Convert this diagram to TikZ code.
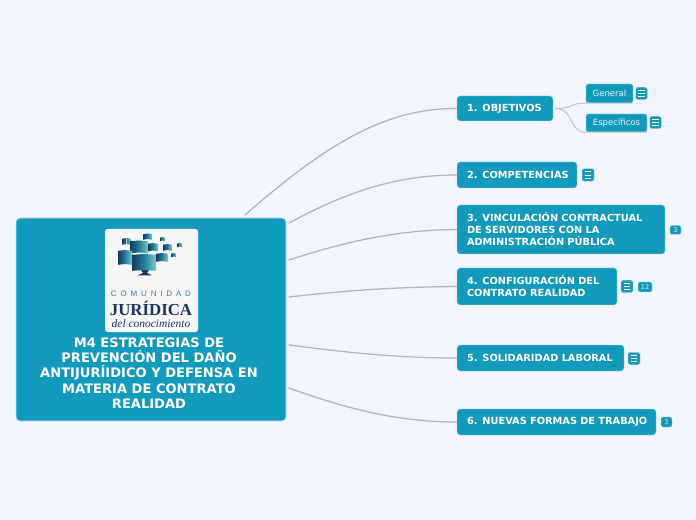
\documentclass[tikz,border=0pt]{standalone}
\usepackage{fontspec}
\setmainfont{DejaVu Sans}
\newfontfamily\comfont[LetterSpace=48]{Liberation Sans}
\newfontfamily\jurfont{Liberation Serif}
\definecolor{pagebg}{HTML}{F3F6FF}
\definecolor{teal}{HTML}{129ABD}
\definecolor{link}{HTML}{B2B5C0}
\definecolor{navy}{HTML}{1A3560}
\definecolor{aqua}{HTML}{7CCBC8}
\definecolor{midteal}{HTML}{1F7F9B}
\definecolor{comcol}{HTML}{2A84A0}
\tikzset{
  box/.style 2 args={rectangle,rounded corners=2.25pt,fill=teal,draw=teal!35!white,line width=.3pt,
    minimum width={#1*0.75pt},minimum height={#2*0.75pt},inner ysep=0pt,inner xsep=7.5pt,
    text width={(#1-20)*0.75pt},align=left,text=white,font=\fontsize{7.35}{9}\selectfont\bfseries},
  subbox/.style 2 args={rectangle,rounded corners=1.5pt,fill=teal,draw=teal!35!white,line width=.3pt,
    minimum width={#1*0.75pt},minimum height={#2*0.75pt},inner sep=0pt,align=center,text=white!90!teal,
    font=\fontsize{6.4}{8}\selectfont},
  icon/.style 2 args={rectangle,rounded corners=1.2pt,fill=teal,draw=teal!35!white,line width=.2pt,
    minimum width={#1*0.75pt},minimum height={#2*0.75pt},inner sep=0pt,
    path picture={
      \foreach \yy in {-2.5,0,2.5}
        \draw[white,line width=.55pt] ([xshift=1.9pt,yshift=\yy pt]path picture bounding box.west) -- ([xshift=-1.9pt,yshift=\yy pt]path picture bounding box.east);
    }},
  badge/.style 2 args={rectangle,rounded corners=1.5pt,fill=teal,draw=teal!35!white,line width=.2pt,
    minimum width={#1*0.75pt},minimum height={#2*0.75pt},inner sep=0pt,text=white!85!teal,
    font=\fontsize{4.8}{5}\selectfont},
  conn/.style={draw=link,line width=.95pt,line cap=round},
  subconn/.style={draw=link!80!white,line width=.75pt},
  bookl/.style={left color=navy,right color=midteal,draw=none},
  bookr/.style={left color=midteal,right color=aqua,draw=none},
}
\begin{document}
\begin{tikzpicture}[x=0.75pt,y=-0.75pt]
\useasboundingbox (0,0) rectangle (696,520);
\fill[pagebg] (0,0) rectangle (696,520);

% root
\node[rectangle,rounded corners=3pt,fill=teal,draw=teal!25!white,line width=.4pt,minimum width=202.5pt,minimum height=152.25pt,inner sep=0pt] (root) at (151,319.5) {};
\node[align=center,text=white,inner sep=0pt,font=\fontsize{9.8}{11.5}\selectfont\bfseries] (roottext) at (149,373) {M4 ESTRATEGIAS DE\\PREVENCIÓN DEL DAÑO\\ANTIJURÍIDICO Y DEFENSA EN\\MATERIA DE CONTRATO\\REALIDAD};

% logo
\node[rectangle,rounded corners=2pt,fill=white!97!black,minimum width=69.75pt,minimum height=77.25pt,inner sep=0pt] (logo) at (151.5,280.5) {};
\fill[navy] (146,268) -- (141,270) -- (143,273) -- (137,275.5) -- (152,275.5) -- (147,273) -- (149,270) -- cycle;
\foreach \a/\b/\c/\d in {143/233.5/152/239,122/238/131/244,130/240.5/148/252.5,148/243/158/250.5,118/250/132/264,132/254/156/270,156/253/168/261,163/244/172/250,160/237/165/240.5,177/243/182/246.5,171/253/176/256.5}{
  \pgfmathsetmacro{\m}{(\a+\c)/2}
  \shade[bookl] (\a,\b+0.8) -- (\m,\b) -- (\m,\d) -- (\a,\d+0.8) -- cycle;
  \shade[bookr] (\m,\b) -- (\c,\b+0.8) -- (\c,\d+0.8) -- (\m,\d) -- cycle;
}
\node[text=comcol,inner sep=0pt,font=\fontsize{6}{7}\selectfont\comfont] (logocom) at (151,294) {COMUNIDAD};
\node[text=navy,inner sep=0pt,font=\fontsize{12.6}{13}\selectfont\jurfont\bfseries] (logojur) at (151,308.5) {JURÍDICA};
\node[text=navy,inner sep=0pt,font=\fontsize{8.6}{9}\selectfont\jurfont\itshape] (logodel) at (151,324) {del conocimiento};

% topics
\node[box={96}{25}] (t1) at (505,108.5) {\mbox{1. OBJETIVOS}};
\node[box={120}{26}] (t2) at (517,175) {\mbox{2. COMPETENCIAS}};
\node[box={208}{49}] (t3) at (561,229.5) {\mbox{3. VINCULACIÓN CONTRACTUAL}\\\mbox{DE SERVIDORES CON LA}\\\mbox{ADMINISTRACIÓN PÚBLICA}};
\node[box={160}{37}] (t4) at (537,286.5) {\mbox{4. CONFIGURACIÓN DEL}\\\mbox{CONTRATO REALIDAD}};
\node[box={167}{26}] (t5) at (540.5,358) {\mbox{5. SOLIDARIDAD LABORAL}};
\node[box={199}{26}] (t6) at (556.5,422) {\mbox{6. NUEVAS FORMAS DE TRABAJO}};

% sub topics
\node[subbox={47}{19}] (s1) at (609.5,93.5) {General};
\node[subbox={61}{18}] (s2) at (616.5,123) {Específicos};

% icons and badges
\node[icon={11.5}{12.5}] (i1) at (641.5,93.5) {};
\node[icon={11.5}{12.5}] (i2) at (655.5,122.5) {};
\node[icon={12}{12.5}] (i3) at (588,175) {};
\node[badge={11}{9}] (b3) at (675.5,230) {3};
\node[icon={12}{12.5}] (i4) at (627,286.5) {};
\node[badge={14}{10}] (b4) at (645,287) {12};
\node[icon={12}{12.5}] (i5) at (634,358.5) {};
\node[badge={11}{10}] (b6) at (666.5,422) {3};

% connectors
\coordinate (r1) at (245,215);
\coordinate (r2) at (289,223);
\coordinate (r3) at (289,260);
\coordinate (r4) at (289,297);
\coordinate (r5) at (289,345);
\coordinate (r6) at (289,388);
\path[conn] (r1) .. controls (325,145) and (385,108) .. (t1.west);
\path[conn] (r2) .. controls (350,190) and (400,175) .. (t2.west);
\path[conn] (r3) .. controls (350,240) and (400,230) .. (t3.west);
\path[conn] (r4) .. controls (350,290) and (400,287) .. (t4.west);
\path[conn] (r5) .. controls (350,353) and (400,358) .. (t5.west);
\path[conn] (r6) .. controls (350,410) and (400,422) .. (t6.west);
\coordinate (o1) at (555,108.5);
\path[subconn] (o1) .. controls (575,108.5) and (568,103) .. (s1.south west) -- (s1.south east);
\path[subconn] (o1) .. controls (575,108.5) and (568,132.5) .. (s2.south west) -- (s2.south east);
\end{tikzpicture}
\end{document}
